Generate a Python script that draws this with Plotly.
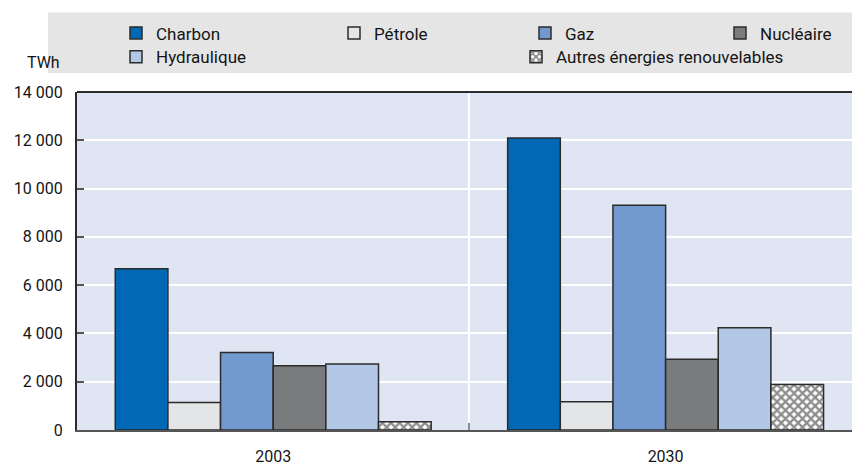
import plotly.graph_objects as go

# Electricity generation by source, TWh
years = ["2003", "2030"]
charbon = [6680, 12090]
petrole = [1140, 1165]
gaz = [3210, 9310]
nucleaire = [2660, 2935]
hydraulique = [2730, 4240]
autres = [340, 1880]

series_names = ["Charbon", "Pétrole", "Gaz", "Nucléaire", "Hydraulique",
                "Autres énergies renouvelables"]
series_values = [charbon, petrole, gaz, nucleaire, hydraulique, autres]
series_colors = ["#0068b4", "#e4e5e7", "#739ad0", "#7a7b7d", "#b3c7e7", "#ffffff"]

y_ticks = [0, 2000, 4000, 6000, 8000, 10000, 12000, 14000]

FONT = "Roboto, Liberation Sans, sans-serif"
TEXT = "#141414"

# plot area geometry in pixels (used to place legends in paper units)
W, H = 852, 466
ML, MR, MT, MB = 77, 0, 92, 34
PW, PH = W - ML - MR, H - MT - MB


def px_x(x):
    return (x - ML) / PW


def px_y(y):
    return (H - MB - y) / PH


# legend slots: (text left x, row centre y)
legend_slots = [(158, 33), (376, 33), (567, 33), (762, 33), (158, 57), (558, 57)]

fig = go.Figure()
for i, (name, vals, col) in enumerate(zip(series_names, series_values, series_colors)):
    marker = dict(color=col, line=dict(color="#2b2b2b", width=1.5))
    if name.startswith("Autres"):
        marker["pattern"] = dict(shape="x", fgcolor="#1a1a1a", bgcolor="#ffffff",
                                 size=6, solidity=0.62, fillmode="overlay")
    fig.add_trace(go.Bar(
        x=years, y=vals, name=name, marker=marker,
        legend="legend" if i == 0 else f"legend{i + 1}",
    ))

layout_legends = {}
for i, (tx, ty) in enumerate(legend_slots):
    key = "legend" if i == 0 else f"legend{i + 1}"
    layout_legends[key] = dict(
        x=px_x(tx - 42), y=px_y(ty), xanchor="left", yanchor="middle",
        bgcolor="rgba(0,0,0,0)", font=dict(family=FONT, size=17, color=TEXT),
        itemclick=False, itemdoubleclick=False,
    )

fig.update_layout(
    width=W, height=H,
    margin=dict(l=ML, r=MR, t=MT, b=MB, pad=0),
    paper_bgcolor="#ffffff",
    plot_bgcolor="#dfe5f3",
    barmode="group",
    bargap=0.195,
    bargroupgap=0,
    separators=". ",
    font=dict(family=FONT, size=16, color=TEXT),
    showlegend=True,
    **layout_legends,
    xaxis=dict(
        type="category",
        range=[-0.5, 1.475],
        showgrid=True, gridcolor="#ffffff", gridwidth=2,
        tickson="boundaries", ticks="inside", ticklen=7,
        tickcolor="#8c8c8c", tickwidth=2,
        showline=True, linecolor="#555555", linewidth=2,
        tickfont=dict(family=FONT, size=16, color=TEXT),
        ticklabelstandoff=11,
        fixedrange=True,
    ),
    yaxis=dict(
        range=[0, 14000],
        tickvals=y_ticks,
        tickformat=",d",
        showgrid=True, gridcolor="#ffffff", gridwidth=2,
        zeroline=False,
        ticks="inside", ticklen=7, tickcolor="#555555", tickwidth=1.5,
        showline=True, linecolor="#2b2b2b", linewidth=2,
        tickfont=dict(family=FONT, size=16, color=TEXT),
        ticklabelstandoff=9,
        fixedrange=True,
    ),
    shapes=[
        # legend panel
        dict(type="rect", xref="paper", yref="paper",
             x0=px_x(48), x1=1.0, y0=px_y(73), y1=px_y(12),
             fillcolor="#e5e5e5", line=dict(width=0), layer="below"),
        # top frame line
        dict(type="line", xref="paper", yref="paper",
             x0=0, x1=1, y0=1, y1=1, line=dict(color="#2b2b2b", width=2)),
    ],
    annotations=[
        dict(text="TWh", xref="paper", yref="paper", x=px_x(62), y=px_y(62),
             xanchor="right", yanchor="middle", showarrow=False,
             font=dict(family=FONT, size=16, color=TEXT)),
    ],
)

fig.write_html("out.html")
